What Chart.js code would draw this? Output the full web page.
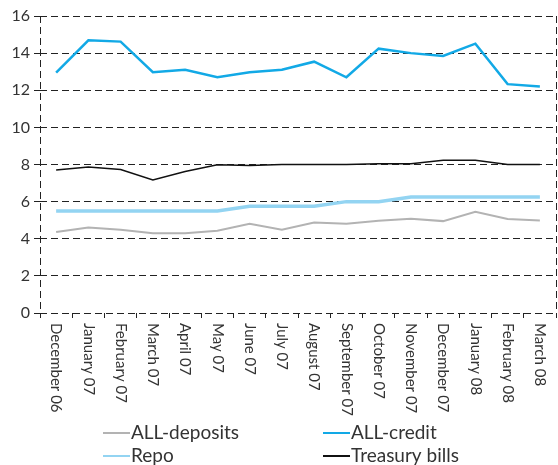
<!DOCTYPE html>
<html>
<head>
<meta charset="utf-8">
<script src="https://cdn.jsdelivr.net/npm/chart.js@4"></script>
<style>
  html, body { margin: 0; padding: 0; background: #fff; }
  #wrap { width: 558px; height: 465px; }
</style>
</head>
<body>
<div id="wrap"><canvas id="rateChart" width="558" height="465"></canvas></div>
<script>
// months on the x axis
const months = ['December 06','January 07','February 07','March 07','April 07','May 07','June 07','July 07',
  'August 07','September 07','October 07','November 07','December 07','January 08','February 08','March 08'];

// series values
const allDeposits = [4.36,4.61,4.48,4.30,4.30,4.43,4.81,4.48,4.88,4.81,4.97,5.08,4.95,5.45,5.06,4.98];
const allCredit   = [12.95,14.69,14.62,12.97,13.10,12.70,12.97,13.10,13.54,12.70,14.24,14.00,13.85,14.51,12.33,12.20];
const repo        = [5.5,5.5,5.5,5.5,5.5,5.5,5.75,5.75,5.75,6.0,6.0,6.25,6.25,6.25,6.25,6.25];
const tBills      = [7.71,7.86,7.73,7.17,7.62,7.98,7.95,8.0,8.0,8.0,8.04,8.04,8.23,8.23,8.0,8.0];

const yTicks = [0,2,4,6,8,10,12,14,16];

const FONT = 'Lato, "DejaVu Sans", sans-serif';
const TXT = '#333';
const GRID = '#222';
const DASH = [7,4];

// x labels rotated clockwise + legend + dashed side borders
const extras = {
  id: 'extras',
  afterDraw(chart) {
    const ctx = chart.ctx;
    const area = chart.chartArea;
    const xs = chart.scales.x;
    ctx.save();
    // dashed left / right borders
    ctx.strokeStyle = GRID;
    ctx.lineWidth = 1;
    ctx.setLineDash(DASH);
    [area.left, area.right].forEach(x => {
      ctx.beginPath();
      ctx.moveTo(x + 0.5, area.top);
      ctx.lineTo(x + 0.5, area.bottom);
      ctx.stroke();
    });
    ctx.setLineDash([]);
    // month labels reading top to bottom
    ctx.fillStyle = TXT;
    ctx.font = '15px ' + FONT;
    ctx.textAlign = 'left';
    ctx.textBaseline = 'middle';
    months.forEach((m, i) => {
      const x = xs.getPixelForTick(i);
      ctx.save();
      ctx.translate(x, area.bottom + 10);
      ctx.rotate(Math.PI / 2);
      ctx.fillText(m, 0, 0);
      ctx.restore();
    });
    // legend, two columns
    const spots = [[103, 433], [323, 433], [103, 456], [323, 456]];
    ctx.font = '19px ' + FONT;
    chart.data.datasets.forEach((ds, i) => {
      const [lx, ly] = spots[i];
      ctx.strokeStyle = ds.borderColor;
      ctx.lineWidth = 2;
      ctx.beginPath();
      ctx.moveTo(lx, ly);
      ctx.lineTo(lx + 27, ly);
      ctx.stroke();
      ctx.fillStyle = TXT;
      ctx.fillText(ds.label, lx + 28, ly);
    });
    ctx.restore();
  }
};

new Chart('rateChart', {
  type: 'line',
  data: {
    labels: months,
    datasets: [
      {label: 'ALL-deposits', data: allDeposits, borderColor: '#b3b3b3', borderWidth: 2},
      {label: 'ALL-credit', data: allCredit, borderColor: '#12a9e6', borderWidth: 2.5},
      {label: 'Repo', data: repo, borderColor: '#93d4f2', borderWidth: 3.5},
      {label: 'Treasury bills', data: tBills, borderColor: '#111111', borderWidth: 1.5}
    ]
  },
  options: {
    responsive: false,
    animation: false,
    layout: {padding: {left: 0, right: 2, top: 16, bottom: 52}},
    elements: {point: {radius: 0}, line: {tension: 0}},
    plugins: {legend: {display: false}, tooltip: {enabled: false}},
    scales: {
      x: {
        offset: true,
        grid: {offset: true, drawOnChartArea: false, tickLength: 5, color: GRID},
        border: {display: false},
        ticks: {display: false},
        afterFit(scale) { scale.height = 100; }
      },
      y: {
        min: 0, max: 16,
        afterBuildTicks(scale) { scale.ticks = yTicks.map(v => ({value: v})); },
        grid: {color: GRID, tickLength: 6},
        border: {display: false, dash: DASH},
        ticks: {color: TXT, font: {family: FONT, size: 16}, padding: 4},
        afterFit(scale) { scale.width = 40; }
      }
    }
  },
  plugins: [extras]
});
</script>
</body>
</html>
